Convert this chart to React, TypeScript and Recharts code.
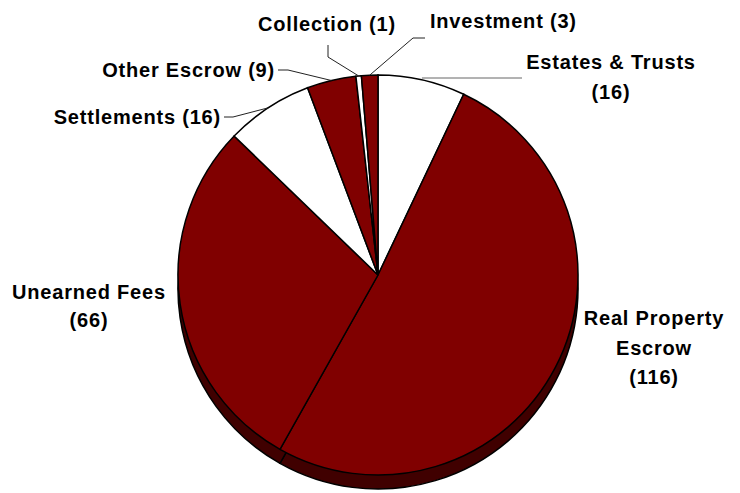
import { PieChart, Pie, Cell } from 'recharts';

// slices, clockwise from 12 o'clock
const names = [
  'Estates & Trusts',
  'Real Property Escrow',
  'Unearned Fees',
  'Settlements',
  'Other Escrow',
  'Collection',
  'Investment',
];
const counts = [16, 116, 66, 16, 9, 1, 3];
const fills = ['#ffffff', '#800000', '#800000', '#ffffff', '#800000', '#ffffff', '#800000'];
const labelLines = [
  ['Estates & Trusts', '(16)'],
  ['Real Property', 'Escrow', '(116)'],
  ['Unearned Fees', '(66)'],
  ['Settlements (16)'],
  ['Other Escrow (9)'],
  ['Collection (1)'],
  ['Investment (3)'],
];

const data = names.map((name, i) => ({ name, value: counts[i] }));

// label placement (text position, anchor, leader line bends)
const layout: any[] = [
  { x: 611, y: 62, anchor: 'middle', lh: 30, bends: [[522, 78]], flat: true },
  { x: 654, y: 318, anchor: 'middle', lh: 29.5, bends: [] },
  { x: 89, y: 292, anchor: 'middle', lh: 28, bends: [] },
  { x: 221, y: 117, anchor: 'end', lh: 0, bends: [[233, 117], [224, 117]] },
  { x: 275, y: 70, anchor: 'end', lh: 0, bends: [[288, 70], [278, 70]] },
  { x: 327, y: 24, anchor: 'middle', lh: 0, bends: [[328, 57], [328, 45]] },
  { x: 430, y: 21, anchor: 'start', lh: 0, bends: [[413, 38], [425, 38]] },
];

const RAD = Math.PI / 180;
const CX = 378;
const CY = 275;
const R = 200;
const DEPTH = 14;

const textStyle = {
  fontFamily: '"Liberation Sans", Arial, sans-serif',
  fontWeight: 700,
  fontSize: 20,
  letterSpacing: 0.8,
};

function renderLabel(props: any) {
  const { cx, cy, outerRadius, midAngle, index } = props;
  const l = layout[index];
  const sx = cx + outerRadius * Math.cos(-midAngle * RAD);
  const sy = cy + outerRadius * Math.sin(-midAngle * RAD);
  const pts: number[][] = [[sx, l.flat ? l.bends[0][1] : sy], ...l.bends];
  const lines = labelLines[index];
  return (
    <g key={'lbl' + index}>
      {l.bends.length > 0 && (
        <polyline
          points={pts.map(p => p.join(',')).join(' ')}
          fill="none"
          stroke={l.flat ? '#666' : '#222'}
          strokeWidth={1}
        />
      )}
      {lines.map((t: string, j: number) => (
        <text
          key={j}
          x={l.x}
          y={l.y + j * l.lh}
          textAnchor={l.anchor}
          dominantBaseline="central"
          fill="#000"
          style={textStyle}
        >
          {t}
        </text>
      ))}
    </g>
  );
}

export default function App() {
  return (
    <div style={{ position: 'absolute', left: 0, top: 0, background: '#fff' }}>
      <PieChart width={740} height={493} margin={{ top: 0, right: 0, bottom: 0, left: 0 }}>
        {/* side of the 3d disc */}
        <Pie
          data={data}
          dataKey="value"
          cx={CX}
          cy={CY + DEPTH}
          outerRadius={R}
          startAngle={90}
          endAngle={-270}
          stroke="#000"
          strokeWidth={1.5}
          isAnimationActive={false}
          legendType="none"
        >
          {data.map((d, i) => (
            <Cell key={i} fill="#400000" />
          ))}
        </Pie>
        <Pie
          data={data}
          dataKey="value"
          cx={CX}
          cy={CY}
          outerRadius={R}
          startAngle={90}
          endAngle={-270}
          stroke="#000"
          strokeWidth={1.5}
          isAnimationActive={false}
          label={renderLabel}
          labelLine={false}
        >
          {data.map((d, i) => (
            <Cell key={i} fill={fills[i]} />
          ))}
        </Pie>
      </PieChart>
    </div>
  );
}
